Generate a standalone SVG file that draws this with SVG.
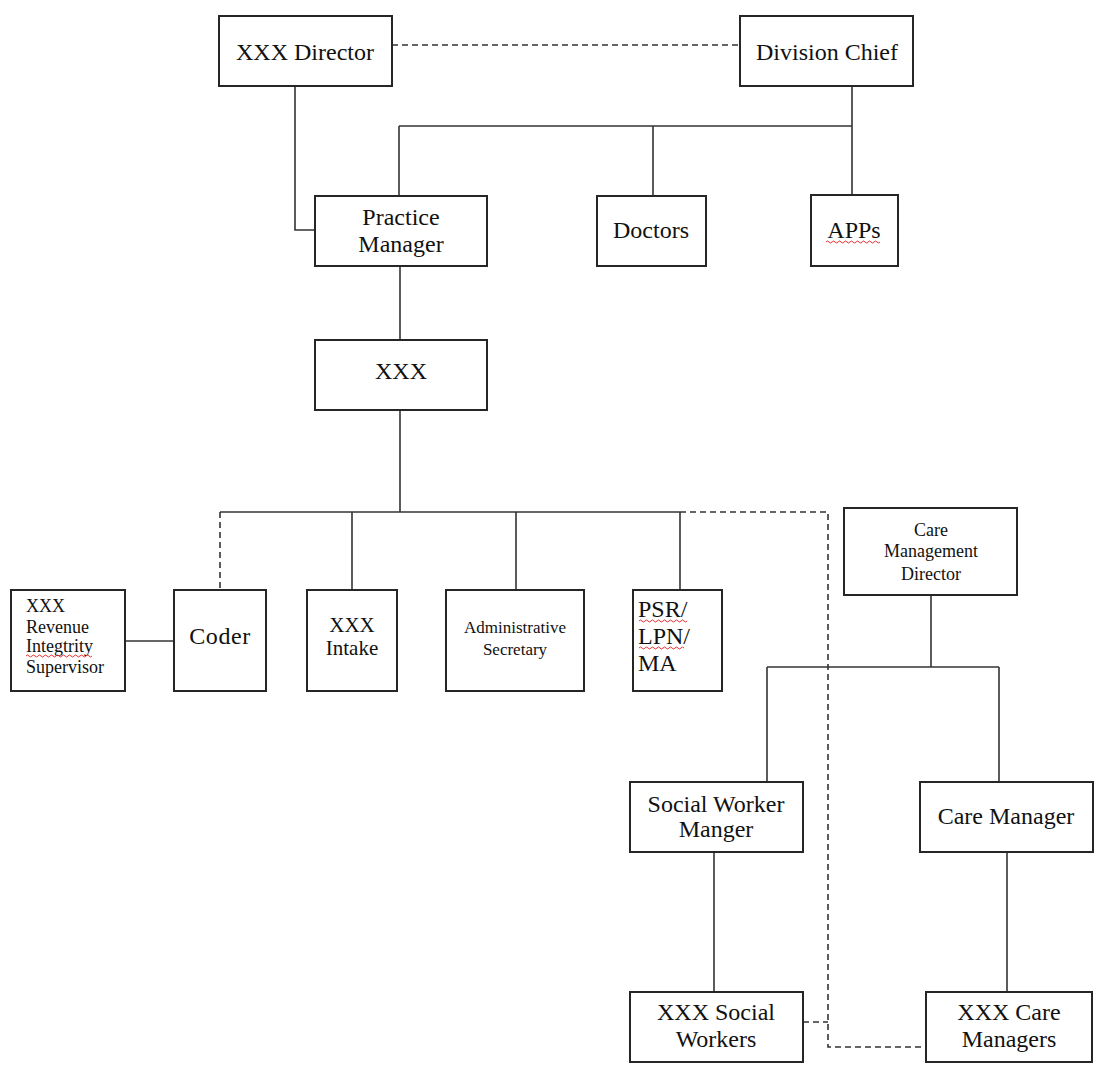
<svg xmlns="http://www.w3.org/2000/svg" width="1102" height="1068" viewBox="0 0 1102 1068">
<style>
.box{fill:#fff;stroke:#262626;stroke-width:2}
.ln{fill:none;stroke:#333;stroke-width:1.6}
.dl{fill:none;stroke:#333;stroke-width:1.6;stroke-dasharray:6 4}
.sq{fill:none;stroke:#e83030;stroke-width:1}
text{font-family:"Liberation Serif","Times New Roman",serif;fill:#111;font-size:24px}
.c{text-anchor:middle}
.s18{font-size:18px}
.s17{font-size:17px}
.s21{font-size:21px}
</style>
<rect width="1102" height="1068" fill="#fff"/>
<g id="connectors">
<line class="dl" x1="392" y1="45" x2="740" y2="45"/>
<polyline class="ln" points="295,86 295,230 315,230"/>
<line class="ln" x1="852" y1="86" x2="852" y2="195"/>
<line class="ln" x1="399" y1="126" x2="852" y2="126"/>
<line class="ln" x1="399" y1="126" x2="399" y2="196"/>
<line class="ln" x1="653" y1="126" x2="653" y2="195"/>
<line class="ln" x1="400" y1="266" x2="400" y2="340"/>
<line class="ln" x1="400" y1="410" x2="400" y2="512"/>
<line class="ln" x1="220" y1="512" x2="680" y2="512"/>
<line class="dl" x1="220" y1="512" x2="220" y2="590"/>
<line class="ln" x1="352" y1="512" x2="352" y2="590"/>
<line class="ln" x1="516" y1="512" x2="516" y2="590"/>
<line class="ln" x1="680" y1="512" x2="680" y2="590"/>
<polyline class="dl" points="680,512 828,512 828,1047 926,1047"/>
<line class="dl" x1="803" y1="1022" x2="828" y2="1022"/>
<line class="ln" x1="125" y1="641" x2="174" y2="641"/>
<line class="ln" x1="931" y1="595" x2="931" y2="667"/>
<line class="ln" x1="767" y1="667" x2="999" y2="667"/>
<line class="ln" x1="767" y1="667" x2="767" y2="782"/>
<line class="ln" x1="999" y1="667" x2="999" y2="782"/>
<line class="ln" x1="714" y1="852" x2="714" y2="992"/>
<line class="ln" x1="1007" y1="852" x2="1007" y2="992"/>
</g>
<g id="xxx-director"><rect class="box" x="219" y="16" width="173" height="70"/><text class="c" x="305" y="60">XXX Director</text></g>
<g id="division-chief"><rect class="box" x="740" y="16" width="173" height="70"/><text class="c" x="827" y="60">Division Chief</text></g>
<g id="practice-manager"><rect class="box" x="315" y="196" width="172" height="70"/><text class="c" x="401" y="225">Practice</text><text class="c" x="401" y="252">Manager</text></g>
<g id="doctors"><rect class="box" x="597" y="196" width="109" height="70"/><text class="c" x="651" y="238">Doctors</text></g>
<g id="apps"><rect class="box" x="811" y="195" width="87" height="71"/><text class="c" x="854" y="238">APPs</text><path class="sq" d="M826,242 q1.5,-2 3,0 t3,0 t3,0 t3,0 t3,0 t3,0 t3,0 t3,0 t3,0 t3,0 t3,0 t3,0 t3,0 t3,0 t3,0 t3,0 t3,0 t3,0"/></g>
<g id="xxx"><rect class="box" x="315" y="340" width="172" height="70"/><text class="c" x="401" y="379">XXX</text></g>
<g id="revenue-supervisor"><rect class="box" x="11" y="590" width="114" height="101"/>
<text class="s18" x="26" y="612">XXX</text><text class="s18" x="26" y="633">Revenue</text><text class="s18" x="26" y="652">Integtrity</text><text class="s18" x="26" y="673">Supervisor</text>
<path class="sq" d="M26,656 q1.5,-2 3,0 t3,0 t3,0 t3,0 t3,0 t3,0 t3,0 t3,0 t3,0 t3,0 t3,0 t3,0 t3,0 t3,0 t3,0 t3,0 t3,0 t3,0 t3,0 t3,0 t3,0 t3,0"/></g>
<g id="coder"><rect class="box" x="174" y="590" width="92" height="101"/><text class="c" x="220" y="644" letter-spacing="0.6">Coder</text></g>
<g id="xxx-intake"><rect class="box" x="307" y="590" width="90" height="101"/><text class="c s21" x="352" y="632">XXX</text><text class="c s21" x="352" y="655">Intake</text></g>
<g id="admin-secretary"><rect class="box" x="446" y="590" width="138" height="101"/><text class="c s17" x="515" y="633">Administrative</text><text class="c s17" x="515" y="655">Secretary</text></g>
<g id="psr-lpn-ma"><rect class="box" x="633" y="590" width="89" height="101"/>
<text x="638" y="617">PSR/</text><text x="638" y="644">LPN/</text><text x="638" y="671">MA</text>
<path class="sq" d="M639,621 q1.5,-2 3,0 t3,0 t3,0 t3,0 t3,0 t3,0 t3,0 t3,0 t3,0 t3,0 t3,0 t3,0 t3,0 t3,0 t3,0 t3,0"/>
<path class="sq" d="M639,648 q1.5,-2 3,0 t3,0 t3,0 t3,0 t3,0 t3,0 t3,0 t3,0 t3,0 t3,0 t3,0 t3,0 t3,0 t3,0 t3,0"/></g>
<g id="care-management-director"><rect class="box" x="844" y="508" width="173" height="87"/><text class="c s18" x="931" y="536">Care</text><text class="c s18" x="931" y="557">Management</text><text class="c s18" x="931" y="580">Director</text></g>
<g id="social-worker-manager"><rect class="box" x="630" y="782" width="173" height="70"/><text class="c" x="716" y="812">Social Worker</text><text class="c" x="716" y="837">Manger</text></g>
<g id="care-manager"><rect class="box" x="920" y="782" width="173" height="70"/><text class="c" x="1006" y="824">Care Manager</text></g>
<g id="xxx-social-workers"><rect class="box" x="630" y="992" width="173" height="70"/><text class="c" x="716" y="1020">XXX Social</text><text class="c" x="716" y="1047">Workers</text></g>
<g id="xxx-care-managers"><rect class="box" x="926" y="992" width="166" height="70"/><text class="c" x="1009" y="1020">XXX Care</text><text class="c" x="1009" y="1047">Managers</text></g>
</svg>
